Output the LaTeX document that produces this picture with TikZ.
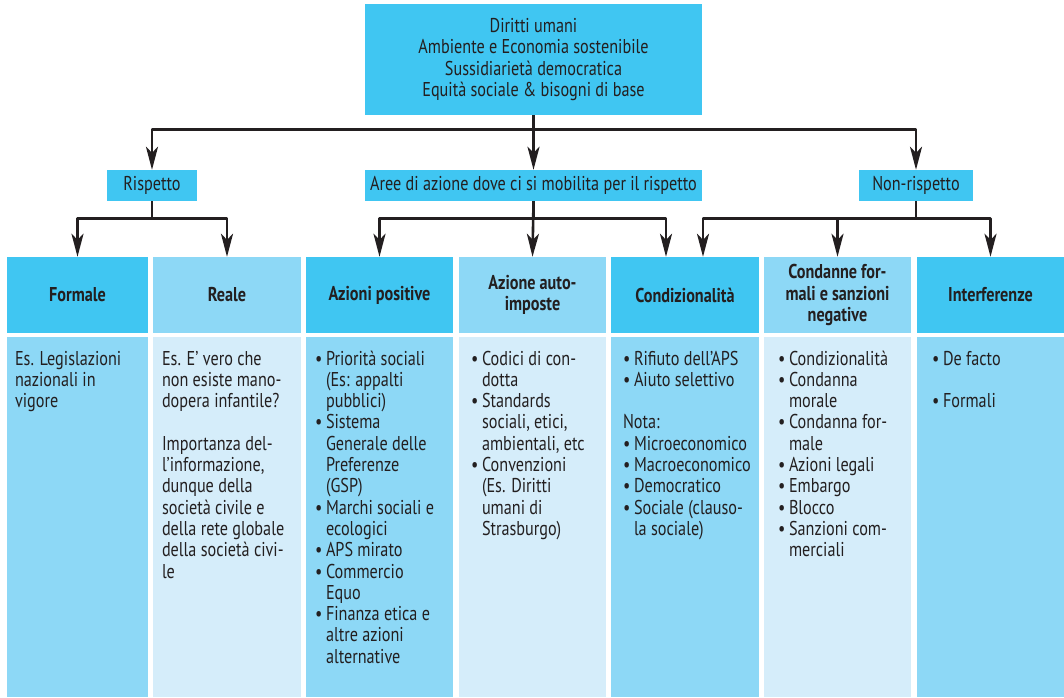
\documentclass[tikz,border=0pt]{standalone}
\usepackage{fontspec}
\setmainfont{PT Sans}[FakeStretch=0.81]
\usetikzlibrary{arrows.meta}
\definecolor{dk}{HTML}{40C6F2}
\definecolor{md}{HTML}{8DD8F6}
\definecolor{lt}{HTML}{D5EDFA}
\definecolor{ink}{HTML}{231F20}
\newcommand{\myb}{\makebox[11pt][l]{•}}
\newcommand{\myi}{\hspace*{11pt}}
\newcommand{\fs}{\fontsize{20pt}{21.3pt}\selectfont}
\newcommand{\fst}{\rule{0pt}{16pt}}
\begin{document}
\begin{tikzpicture}[x=1pt,y=-1pt,
  bx/.style={fill=dk, inner sep=0pt, align=center, text=ink, font=\fs},
  hd/.style={inner sep=0pt, minimum height=76pt, align=center, text=ink, font=\fs\bfseries},
  bd/.style={inner sep=0pt, minimum height=360pt},
  tx/.style={inner sep=0pt, anchor=north west, align=left, text=ink, font=\fs},
  arr/.style={draw=ink, line width=2.6pt, line join=round, -{Stealth[length=23pt,width=12pt,inset=6pt]}}]
\useasboundingbox (0,0) rectangle (1064,697);
% top level
\node[bx, minimum width=337pt, minimum height=111pt] (top) at (533.5,59.5)
  {Diritti umani\\Ambiente e Economia sostenibile\\Sussidiarietà democratica\\Equità sociale \& bisogni di base};
% second level
\node[bx, minimum width=90pt, minimum height=31pt] (risp) at (152,185.5) {Rispetto};
\node[bx, minimum width=337pt, minimum height=31pt] (aree) at (533.5,185.5) {Aree di azione dove ci si mobilita per il rispetto};
\node[bx, minimum width=114pt, minimum height=31pt] (nonr) at (916,185.5) {Non-rispetto};
% headers
\node[hd, fill=dk, minimum width=141pt] (h1) at (77.5,295) {Formale};
\node[hd, fill=md, minimum width=148pt] (h2) at (227,295) {Reale};
\node[hd, fill=dk, minimum width=147pt] (h3) at (379.5,295) {Azioni positive};
\node[hd, fill=md, minimum width=147pt] (h4) at (532.5,295) {Azione auto-\\imposte};
\node[hd, fill=dk, minimum width=148pt] (h5) at (685,295) {Condizionalità};
\node[hd, fill=md, minimum width=147pt] (h6) at (837.5,295) {Condanne for-\\mali e sanzioni\\negative};
\node[hd, fill=dk, minimum width=147pt] (h7) at (990.5,295) {Interferenze};
% bodies
\node[bd, fill=md, minimum width=141pt] (b1) at (77.5,517) {};
\node[bd, fill=lt, minimum width=148pt] (b2) at (227,517) {};
\node[bd, fill=md, minimum width=147pt] (b3) at (379.5,517) {};
\node[bd, fill=lt, minimum width=147pt] (b4) at (532.5,517) {};
\node[bd, fill=md, minimum width=148pt] (b5) at (685,517) {};
\node[bd, fill=lt, minimum width=147pt] (b6) at (837.5,517) {};
\node[bd, fill=md, minimum width=147pt] (b7) at (990.5,517) {};
% body texts
\node[tx] (t1) at ([xshift=8pt,yshift=-12pt]b1.north west)
  {\fst Es. Legislazioni\\nazionali in\\vigore};
\node[tx] (t2) at ([xshift=9pt,yshift=-12pt]b2.north west)
  {\fst Es. E’ vero che\\non esiste mano-\\dopera infantile?\\[21.3pt]Importanza del-\\l’informazione,\\dunque della\\società civile e\\della rete globale\\della società civi-\\le};
\node[tx] (t3) at ([xshift=9pt,yshift=-12pt]b3.north west)
  {\fst\myb Priorità sociali\\\myi(Es: appalti\\\myi pubblici)\\\myb Sistema\\\myi Generale delle\\\myi Preferenze\\\myi(GSP)\\\myb Marchi sociali e\\\myi ecologici\\\myb APS mirato\\\myb Commercio\\\myi Equo\\\myb Finanza etica e\\\myi altre azioni\\\myi alternative};
\node[tx] (t4) at ([xshift=12pt,yshift=-12pt]b4.north west)
  {\fst\myb Codici di con-\\\myi dotta\\\myb Standards\\\myi sociali, etici,\\\myi ambientali, etc\\\myb Convenzioni\\\myi(Es. Diritti\\\myi umani di\\\myi Strasburgo)};
\node[tx] (t5) at ([xshift=12pt,yshift=-12pt]b5.north west)
  {\fst\myb Rifiuto dell’APS\\\myb Aiuto selettivo\\[21.3pt]Nota:\\\myb Microeconomico\\\myb Macroeconomico\\\myb Democratico\\\myb Sociale (clauso-\\\myi la sociale)};
\node[tx] (t6) at ([xshift=14pt,yshift=-12pt]b6.north west)
  {\fst\myb Condizionalità\\\myb Condanna\\\myi morale\\\myb Condanna for-\\\myi male\\\myb Azioni legali\\\myb Embargo\\\myb Blocco\\\myb Sanzioni com-\\\myi merciali};
\node[tx] (t7) at ([xshift=15pt,yshift=-12pt]b7.north west)
  {\fst\myb De facto\\[21.3pt]\myb Formali};
% connectors
\draw[arr] (top.south) -- ++(0,14) -| (risp.north);
\draw[arr] (top.south) -- (aree.north);
\draw[arr] (top.south) -- ++(0,14) -| (nonr.north);
\draw[arr] (risp.south) -- ++(0,17) -| (h1.north);
\draw[arr] (risp.south) -- ++(0,17) -| (h2.north);
\draw[arr] (aree.south) -- ++(0,17) -| (h3.north);
\draw[arr] (aree.south) -- (h4.north);
\draw[arr] (aree.south) -- ++(0,17) -| ([xshift=-19pt]h5.north);
\draw[arr] (nonr.south) -- ++(0,17) -| ([xshift=18pt]h5.north);
\draw[arr] (nonr.south) -- ++(0,17) -| (h6.north);
\draw[arr] (nonr.south) -- ++(0,17) -| (h7.north);
\end{tikzpicture}
\end{document}
